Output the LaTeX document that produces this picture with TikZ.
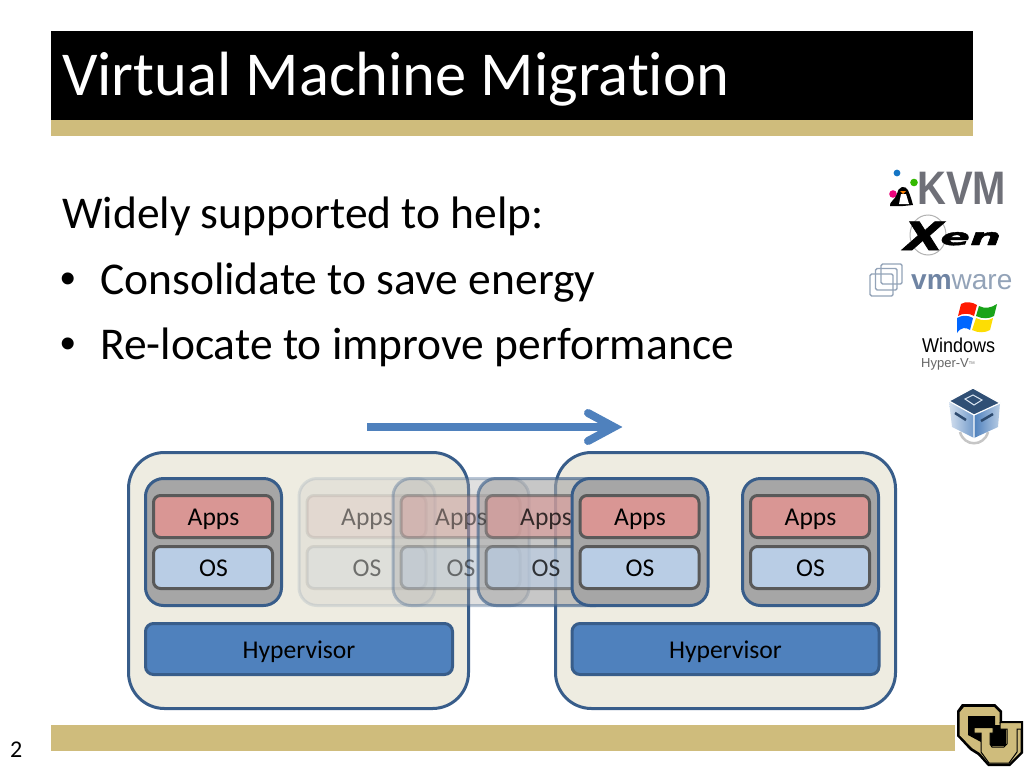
\documentclass[tikz,border=0pt]{standalone}
\usepackage{fontspec}
\setmainfont[Ligatures=CommonOff]{Carlito}
\newfontfamily\xenfont[BoldItalicFeatures={FakeBold=1.6}]{DejaVu Sans}
\newfontfamily\libsans{Liberation Sans}
\usetikzlibrary{arrows.meta}
\definecolor{gold}{HTML}{CFBC7C}
\definecolor{hostfill}{HTML}{EEECE1}
\definecolor{navy}{HTML}{385D8A}
\definecolor{vmgray}{HTML}{A6A6A6}
\definecolor{appsred}{HTML}{D99694}
\definecolor{osblue}{HTML}{B9CDE5}
\definecolor{edgegray}{HTML}{595959}
\definecolor{hypblue}{HTML}{4F81BD}
\definecolor{kvmgray}{HTML}{6F7078}
\definecolor{vmwlight}{HTML}{93A3B8}
\definecolor{vmwdark}{HTML}{6F84A3}
\tikzset{
  x=1pt,y=-1pt,
  box/.style={inner sep=0pt,outer sep=0pt,anchor=north west},
  hostbox/.style={box,draw=navy,line width=3pt,fill=hostfill,rounded corners=36pt,minimum width=340pt,minimum height=256pt},
  vmbox/.style={box,draw=navy,line width=3pt,fill=vmgray,rounded corners=18pt,minimum width=136pt,minimum height=127pt},
  appsbox/.style={box,draw=edgegray,line width=3pt,fill=appsred,rounded corners=7pt,minimum width=119pt,minimum height=42pt},
  osbox/.style={box,draw=edgegray,line width=3pt,fill=osblue,rounded corners=7pt,minimum width=119pt,minimum height=42pt},
  hypbox/.style={box,draw=navy,line width=3pt,fill=hypblue,rounded corners=8pt,minimum width=307pt,minimum height=51pt},
  boxlabel/.style={inner sep=0pt,anchor=base,font=\fontsize{25.6}{25.6}\selectfont},
  slidetext/.style={anchor=base west,inner sep=0pt,font=\fontsize{45.5}{45.5}\selectfont},
  bulletmark/.style={anchor=base west,inner sep=0pt,font=\libsans\fontsize{44}{44}\selectfont},
}
% boxes of a VM, then separately its labels
\newcommand{\vmboxes}[3]{%
  \node[vmbox] (#3v) at (#1,#2) {};
  \node[appsbox] (#3a) at (#1+8,#2+17) {};
  \node[osbox] (#3o) at (#1+8,#2+68) {};
}
\newcommand{\vmlabels}[4]{%
  \node[boxlabel,opacity=#4] (#3at) at (#1+68,#2+47) {Apps};
  \node[boxlabel,opacity=#4] (#3ot) at (#1+68,#2+98) {OS};
}
\begin{document}
\begin{tikzpicture}
\useasboundingbox (0,0) rectangle (1024,768);
\fill[white] (0,0) rectangle (1024,768);
% title band
\node[box,fill=black,minimum width=922pt,minimum height=89pt] (titleband) at (51,31) {};
\node[box,fill=gold,minimum width=922pt,minimum height=16pt] (titlerule) at (51,120) {};
\node[anchor=base west,inner sep=0pt,text=white,font=\fontsize{62.5}{62}\selectfont] (title) at (62,95) {Virtual Machine Migration};
% body
\node[slidetext] (l1) at (62,228) {Widely supported to help:};
\node[bulletmark] (b1) at (60,293) {•};
\node[slidetext] (l2) at (100,294) {Consolidate to save energy};
\node[bulletmark] (b2) at (60,358) {•};
\node[slidetext] (l3) at (100,359) {Re-locate to improve performance};
% footer
\node[box,fill=gold,minimum width=904pt,minimum height=26pt] (footer) at (51,725) {};
\node[anchor=base west,inner sep=0pt,font=\fontsize{24}{24}\selectfont] (pagenum) at (10,757) {2};
% hosts
\node[hostbox] (hostL) at (128.5,452.5) {};
\node[hostbox] (hostR) at (555.5,452.5) {};
\node[hypbox] (hypL) at (145.5,623.5) {};
\node[hypbox] (hypR) at (572,623.5) {};
\node[boxlabel] (hypLt) at (299,658) {Hypervisor};
\node[boxlabel] (hypRt) at (725.5,658) {Hypervisor};
% VMs
\vmboxes{145.5}{478.5}{vmA}
\vmlabels{145.5}{478.5}{vmA}{1}
% ghosts
\begin{scope}[opacity=0.13]
\vmboxes{299}{478.5}{gA}
\end{scope}
\begin{scope}[opacity=0.34]
\vmboxes{393}{478.5}{gB}
\end{scope}
\begin{scope}[opacity=0.62]
\vmboxes{478}{478.5}{gC}
\end{scope}
\vmlabels{299}{478.5}{gA}{0.5}
\vmlabels{393}{478.5}{gB}{0.5}
\vmlabels{478}{478.5}{gC}{0.75}
\vmboxes{572}{478.5}{vmB}
\vmlabels{572}{478.5}{vmB}{1}
\vmboxes{742.5}{478.5}{vmC}
\vmlabels{742.5}{478.5}{vmC}{1}
% migration arrow
\coordinate (arrS) at (367,427);
\coordinate (arrE) at (614,427);
\coordinate (arrT) at (588,413);
\coordinate (arrB) at (588,441);
\draw[hypblue,line width=8pt] (arrS) -- (arrE);
\draw[hypblue,line width=8pt,line cap=round,miter limit=10] (arrT) -- (arrE) -- (arrB);
% KVM logo
\node[anchor=base west,inner sep=0pt,text=kvmgray,xscale=0.85,font=\libsans\bfseries\fontsize{47}{47}\selectfont] (kvm) at (917,204) {KVM};
\fill[cyan!55!blue] (897,173) circle (3.4pt);
\fill[green!65!black!80!yellow] (914,182.5) circle (3.8pt);
\fill[magenta!85!red] (893,194) circle (3.8pt);
\fill[black] (902,187) .. controls (908,186) and (909,193) .. (911,198) -- (913,205) -- (903,206) -- (890,206) .. controls (889,202) and (895,200) .. (897,194) .. controls (898,190) and (899,188) .. (902,187) -- cycle;
\fill[white] (901,194) -- (906,194) -- (909,204) -- (899,204) -- cycle;
\fill[orange] (900,191) -- (906,191) -- (903,194) -- cycle;
% Xen logo
\draw[gray!60,line width=1pt] (928,235) circle (18pt and 20pt);
\node[anchor=base west,inner sep=0pt,xscale=1.3,font=\xenfont\bfseries\itshape\fontsize{39}{39}\selectfont] (xenX) at (904,250) {X};
\node[anchor=base west,inner sep=0pt,xscale=1.9,font=\xenfont\bfseries\itshape\fontsize{23}{23}\selectfont] (xenE) at (940,245) {en};
% VMware logo
\draw[vmwlight,line width=1.4pt,rounded corners=1.5pt] (870,274) rectangle (893,296);
\draw[vmwlight,line width=1.4pt,rounded corners=1.5pt] (875.5,268.5) rectangle (897,290);
\draw[vmwlight,line width=1.4pt,rounded corners=1.5pt] (881,264) rectangle (902,284);
\node[anchor=base west,inner sep=0pt,text=vmwlight,font=\libsans\fontsize{28}{28}\selectfont] (vmw) at (911,289) {\textcolor{vmwdark}{\textbf{vm}}ware};
% Windows logo
\fill[red!80!orange] (961,304) .. controls (966,301) and (972,302) .. (977,305) -- (974,316) .. controls (969,313) and (963,313) .. (958,316) -- cycle;
\fill[green!60!black!90] (979,306) .. controls (985,309) and (991,308) .. (997,304) -- (994,316) .. controls (989,319) and (982,319) .. (976,316) -- cycle;
\fill[blue!60!cyan] (957,318) .. controls (962,315) and (968,315) .. (973,318) -- (970,330) .. controls (966,327) and (961,327) .. (957,333) -- cycle;
\fill[yellow!80!orange] (976,318) .. controls (982,321) and (988,321) .. (993,318) -- (990,330) .. controls (985,333) and (978,333) .. (972,330) -- cycle;
\node[anchor=base west,inner sep=0pt,xscale=0.9,font=\libsans\fontsize{20}{20}\selectfont] (win) at (922,352) {Windows};
\node[anchor=base west,inner sep=0pt,text=gray!80!black,font=\libsans\fontsize{13}{13}\selectfont] (hyp) at (921,367) {Hyper-V\raisebox{3pt}{\fontsize{4}{4}\selectfont TM}};
% VirtualBox cube
\draw[gray!45,line width=2.5pt] (960,432) .. controls (964,447) and (984,447) .. (988,432);
\fill[navy!85!black] (949,401) -- (973,388) -- (1000,403) -- (974,415) -- cycle;
\shade[left color=white!75!hypblue,right color=hypblue!80!white] (949,401) -- (974,415) -- (974,438) -- (952,427) -- cycle;
\shade[left color=hypblue,right color=white!60!hypblue] (974,415) -- (1000,403) -- (998,427) -- (974,438) -- cycle;
\draw[white,line width=1.2pt] (949,401) -- (974,415) -- (1000,403) -- (973,388) -- cycle (974,415) -- (974,438);
\draw[white!80!hypblue,line width=1pt] (965,399) -- (973,395) -- (982,400) -- (974,405) -- cycle;
\draw[navy!80!black,line width=2.5pt] (955,413) -- (966,420);
\draw[navy!80!black,line width=2.5pt] (981,421) -- (993,414);
% CU logo
\fill[black] (962,704) -- (995,704) -- (1002,711) -- (1002,721) -- (1023,721) -- (1023,753) -- (1010,766) -- (988,766) -- (978,755) -- (970,750) -- (957,736) -- (957,711) -- cycle;
\fill[gold] (964,707) -- (994,707) -- (999.5,712.5) -- (999.5,723.5) -- (1020.5,723.5) -- (1020.5,752) -- (1009,763.5) -- (989,763.5) -- (980,753) -- (972,748) -- (959.5,735) -- (959.5,712.5) -- cycle;
\fill[black] (968,716) -- (995,716) -- (995,725) -- (1006,725) -- (1006,746) -- (985,746) -- (981,742) -- (968,735) -- cycle;
\draw[black,line width=1pt,fill=gold] (974,727.5) -- (993,727.5) -- (993,733) -- (990,733) -- (990,744) -- (992,747) -- (1004,747) -- (1007,744) -- (1007,729) -- (1000,729) -- (1000,722.5) -- (1021.5,722.5) -- (1021.5,729) -- (1017,729) -- (1017,752) -- (1009,763) -- (989,763) -- (981,752) -- (981,733) -- (974,733) -- cycle;
\end{tikzpicture}
\end{document}
